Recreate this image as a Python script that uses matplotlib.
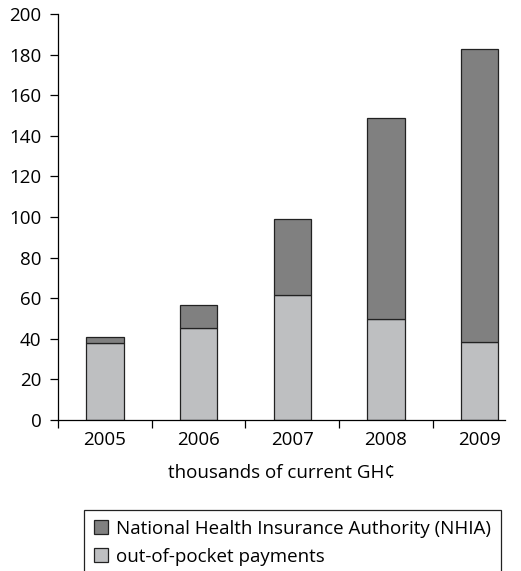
import matplotlib.pyplot as plt
import matplotlib.patches as mpatches
import numpy as np

plt.rcParams['font.family'] = ['Open Sans', 'DejaVu Sans']

# === Data (thousands of current GH¢) ===
years = ['2005', '2006', '2007', '2008', '2009']
out_of_pocket = [37.8, 45.2, 61.6, 49.8, 38.3]
nhia = [2.9, 11.3, 37.3, 98.8, 144.5]

dark = '#808080'
light = '#bebfc1'

fig = plt.figure(figsize=(5.21, 5.71), dpi=100)
ax = fig.add_axes([58 / 521, 1 - 420 / 571, (505 - 58) / 521, (420 - 14) / 571])

x = np.arange(len(years))
ax.bar(x, out_of_pocket, width=0.4, color=light, edgecolor='#222222', linewidth=0.9,
       label='out-of-pocket payments')
ax.bar(x, nhia, width=0.4, bottom=out_of_pocket, color=dark, edgecolor='#222222',
       linewidth=0.9, label='National Health Insurance Authority (NHIA)')

ax.set_xlim(-0.5, 4.27)
ax.set_ylim(0, 200)
ax.set_yticks(range(0, 201, 20))
ax.tick_params(axis='y', direction='out', length=6, width=0.9, pad=6, labelsize=13.5)

# year labels centred under bars, tick marks between categories
ax.set_xticks(np.arange(-0.5, 4.0, 1.0))
ax.set_xticklabels([])
ax.set_xticks(x, minor=True)
ax.set_xticklabels(years, minor=True)
ax.tick_params(axis='x', which='major', direction='out', length=6, width=0.9)
ax.tick_params(axis='x', which='minor', length=0, pad=8, labelsize=13.5)

for s in ['top', 'right']:
    ax.spines[s].set_visible(False)
for s in ['left', 'bottom']:
    ax.spines[s].set_linewidth(0.9)

ax.set_xlabel('thousands of current GH¢', fontsize=13.5, labelpad=11)

# legend box runs off the bottom of the figure
handles, labels = ax.get_legend_handles_labels()
leg = fig.legend(handles[::-1], labels[::-1], loc='upper left',
                 bbox_to_anchor=(86 / 521, 1 - 512 / 571), frameon=False,
                 fontsize=13.5, handlelength=0.75, handleheight=0.75,
                 handletextpad=0.45, labelspacing=0.55, borderaxespad=0)
for h in leg.legend_handles:
    h.set_edgecolor('#222222')
fig.patches.append(mpatches.Rectangle((84 / 521, -0.05), (501 - 84) / 521, 0.05 + 1 - 510 / 571,
                                      transform=fig.transFigure, fill=False,
                                      edgecolor='#222222', linewidth=0.9))

plt.savefig('out.png', dpi=100)
